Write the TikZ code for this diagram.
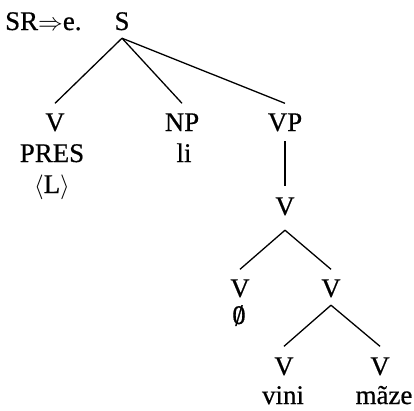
\documentclass[tikz,border=0pt]{standalone}
\usepackage{graphicx}
\usepackage{fontspec}
\setmainfont[FakeBold=0.6]{Liberation Serif}
% slashed zero for the null element
\newcommand\nullel{\ooalign{\hfil0\hfil\cr\hfil\raisebox{-0.06em}{\scalebox{1}[1.15]{/}}\hfil\cr}}
\begin{document}
\begin{tikzpicture}[x=1bp,y=-1bp,
  lbl/.style={anchor=base,inner sep=0pt,font=\fontsize{27}{30}\selectfont},
  cat/.style={lbl,inner ysep=1bp,text height=18.5bp,text depth=0pt},
  branch/.style={line width=1.3bp}]
\useasboundingbox (0,0) rectangle (414,411);

% rule label and root
\node[lbl,anchor=base west] (rule) at (5,30) {SR$\Rightarrow$e.};
\node[cat] (S) at (122,30) {S};

% daughters of S
\node[cat] (V1) at (55,131) {V};
\node[lbl] (pres) at (52,162) {PRES};
\node[lbl] (L) at (52,193) {$\langle$L$\rangle$};
\node[cat] (NP) at (182,131) {NP};
\node[lbl] (li) at (184,162) {li};
\node[cat] (VP) at (285,131) {VP};

% verb complex
\node[cat] (V2) at (285,215) {V};
\node[cat] (V3) at (240,297) {V};
\node[lbl] (null) at (239,324) {\nullel};
\node[cat] (V4) at (331,297) {V};
\node[cat] (V5) at (284,375) {V};
\node[lbl] (vini) at (283,404) {vini};
\node[cat] (V6) at (380,375) {V};
\node[lbl] (maze) at (384,404) {mãze};

% branches: ends kept clear of the labels
\draw[branch] ([yshift=-7bp]S.south) -- ([yshift=8bp]V1.north);
\draw[branch] ([yshift=-7bp]S.south) -- ([yshift=8bp]NP.north);
\draw[branch] ([yshift=-7bp]S.south) -- ([yshift=8bp]VP.north);
\draw[branch] ([yshift=-9bp]VP.south) -- ([yshift=9bp]V2.north);
\draw[branch] ([yshift=-14bp]V2.south) -- ([yshift=8bp]V3.north);
\draw[branch] ([yshift=-14bp]V2.south) -- ([yshift=8bp]V4.north);
\draw[branch] ([yshift=-7bp]V4.south) -- ([yshift=9bp]V5.north);
\draw[branch] ([yshift=-7bp]V4.south) -- ([yshift=9bp]V6.north);
\end{tikzpicture}
\end{document}
